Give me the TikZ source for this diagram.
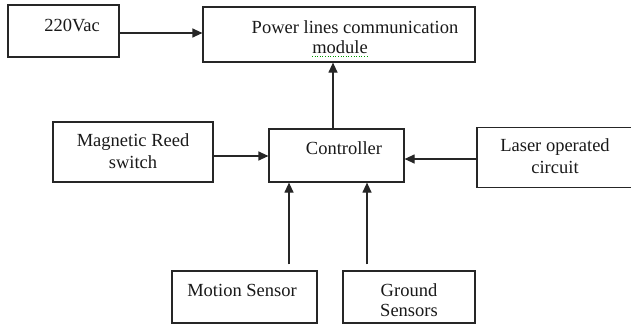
\documentclass[tikz,border=0pt]{standalone}
\usepackage{fontspec}
\setmainfont{Liberation Serif}
\usetikzlibrary{arrows.meta}
\begin{document}
\begin{tikzpicture}[x=1pt,y=-1pt,
  box/.style={draw=black!85, line width=1.2pt, inner sep=0pt, rectangle},
  lbl/.style={inner sep=0pt, font=\fontsize{18.5}{20}\selectfont, text=black!90},
  arr/.style={draw=black!85, line width=1.2pt, -{Triangle[length=10pt,width=9pt]}}]
\useasboundingbox (0,0) rectangle (631,324);
% boxes
\node[box, minimum width=111pt, minimum height=52pt] (v220) at (63.5,31) {};
\node[box, minimum width=272pt, minimum height=55pt] (plc) at (339,34.5) {};
\node[box, minimum width=160pt, minimum height=60pt] (mag) at (133,152) {};
\node[box, minimum width=135pt, minimum height=53pt] (ctrl) at (336.5,155.5) {};
\node[box, minimum width=157pt, minimum height=60pt] (laser) at (555.5,157.5) {};
\node[box, minimum width=145pt, minimum height=52pt] (motion) at (244.5,297) {};
\node[box, minimum width=132pt, minimum height=52pt] (ground) at (409,297) {};
% texts
\node[lbl] (t220) at (72,25) {220Vac};
\node[lbl] (tplc1) at (355,27) {Power lines communication};
\node[lbl] (tplc2) at (340,47) {module};
\draw[green!60!black, line width=0.6pt, dotted] ([yshift=-3pt]tplc2.south west) -- ([yshift=-3pt]tplc2.south east);
\node[lbl] (tmag1) at (133,142) {Magnetic Reed};
\node[lbl] (tmag2) at (133,162) {switch};
\node[lbl] (tctrl) at (344,148) {Controller};
\node[lbl] (tlas1) at (555,147) {Laser operated};
\node[lbl] (tlas2) at (555,167) {circuit};
\node[lbl] (tmot) at (242,290) {Motion Sensor};
\node[lbl] (tgr1) at (409,290) {Ground};
\node[lbl] (tgr2) at (409,310) {Sensors};
% connectors
\draw[arr] ([yshift=-2pt]v220.east) -- ([yshift=-2pt]v220.east -| plc.west);
\draw[arr] ([xshift=-3.5pt]ctrl.north) -- ([xshift=-3.5pt]ctrl.north |- plc.south);
\draw[arr] ([yshift=-4pt]mag.east) -- ([yshift=-4pt]mag.east -| ctrl.west);
\draw[arr] ([yshift=-1.5pt]laser.west) -- ([yshift=-1.5pt]laser.west -| ctrl.east);
\draw[arr, shorten <=6pt] ([xshift=44.5pt]motion.north) -- ([xshift=44.5pt]motion.north |- ctrl.south);
\draw[arr, shorten <=6pt] ([xshift=-42pt]ground.north) -- ([xshift=-42pt]ground.north |- ctrl.south);
\end{tikzpicture}
\end{document}
